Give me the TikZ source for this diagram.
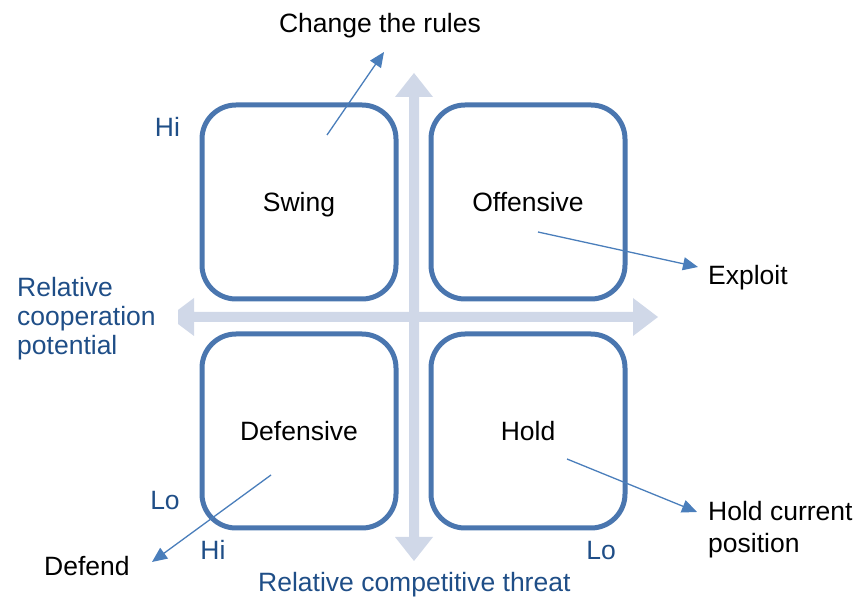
\documentclass[tikz,border=0pt]{standalone}
\usepackage{fontspec}
\setmainfont{Liberation Sans}
\usetikzlibrary{arrows.meta}
\definecolor{boxblue}{HTML}{4A76AF}
\definecolor{pointerblue}{HTML}{4A7EBB}
\definecolor{axisgrey}{HTML}{D0D8E8}
\definecolor{labelblue}{HTML}{1F4E87}
\newcommand\chartfont{\fontsize{26.5}{29}\selectfont}
\newcommand\widechartfont{\fontsize{26.5}{32}\selectfont}
\begin{document}
\begin{tikzpicture}[x=1pt,y=-1pt,
  quad/.style={draw=boxblue, line width=5pt, rounded corners=34pt,
    minimum width=194pt, minimum height=194pt, inner sep=0pt, font=\chartfont,
    text height=19pt, text depth=0pt},
  pointer/.style={draw=pointerblue, line width=1.3pt,
    -{Triangle[length=15pt,width=13pt]}},
  plain/.style={inner sep=0pt, font=\chartfont, text=black},
  axislabel/.style={inner sep=0pt, font=\chartfont, text=labelblue}]
\useasboundingbox (0,0) rectangle (855,601);

% axes: broad double-headed arrows
\fill[axisgrey] (409,97) -- (395,97) -- (414,73) -- (433,97) -- (419,97)
  -- (419,537) -- (433,537) -- (414,561) -- (395,537) -- (409,537) -- cycle;
\fill[axisgrey] (194,312) -- (194,298) -- (178,310) -- (178,324) -- (194,336)
  -- (194,322) -- (633,322) -- (633,336) -- (658,317) -- (633,298)
  -- (633,312) -- cycle;

% quadrants
\node[quad] (swing)     at (299,202) {Swing};
\node[quad] (offensive) at (528,202) {Offensive};
\node[quad] (defensive) at (299,431) {Defensive};
\node[quad] (hold)      at (528,431) {Hold};

% strategy labels
\node[plain, anchor=base] (rules) at (380,33) {Change the rules};
\node[plain, anchor=base west] (exploit) at (708,285) {Exploit};
\node[plain, anchor=base west] (defend) at (44,576) {Defend};
\node[plain, font=\widechartfont, anchor=north west, align=left] (holdpos)
  at (708,500.7) {Hold current\\position};

% axis labels
\node[axislabel, anchor=north west, align=left] (coop) at (17,276.7)
  {Relative\\cooperation\\potential};
\node[axislabel, anchor=base west] (threat) at (258,592)
  {Relative competitive threat};
\node[axislabel, anchor=base] (coophi) at (167.5,137) {Hi};
\node[axislabel, anchor=base] (cooplo) at (165,510) {Lo};
\node[axislabel, anchor=base] (threathi) at (213,560) {Hi};
\node[axislabel, anchor=base] (threatlo) at (601,560) {Lo};

% pointers from the quadrants to their strategies
\coordinate (swingfrom) at (327,135);
\coordinate (swingto) at (384,52);
\coordinate (offfrom) at (538,232);
\coordinate (offto) at (698,267);
\coordinate (deffrom) at (271,475);
\coordinate (defto) at (152,562);
\coordinate (holdfrom) at (567,459);
\coordinate (holdto) at (697,512);
\draw[pointer] (swingfrom) -- (swingto);
\draw[pointer] (offfrom) -- (offto);
\draw[pointer] (deffrom) -- (defto);
\draw[pointer] (holdfrom) -- (holdto);
\end{tikzpicture}
\end{document}
